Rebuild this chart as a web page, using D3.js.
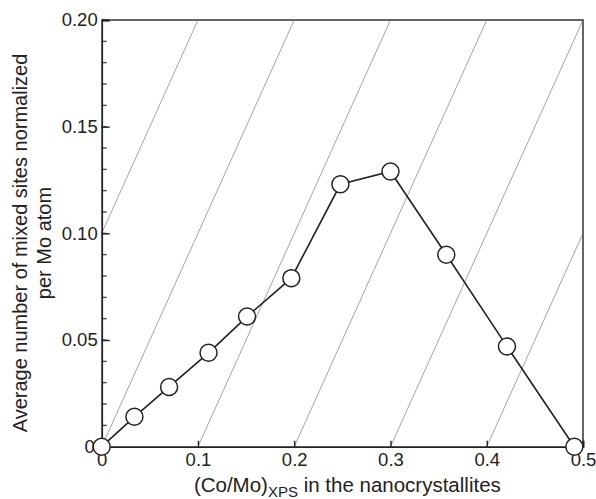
<!DOCTYPE html>
<html>
<head>
<meta charset="utf-8">
<script src="https://cdn.jsdelivr.net/npm/d3@7"></script>
<style>
  body { margin: 0; background: #fff; }
  text { font-family: "Liberation Sans", Arial, sans-serif; }
</style>
</head>
<body>
<script>
// Co/Mo ratio vs mixed sites per Mo atom
const coMo = [0, 0.034, 0.070, 0.111, 0.151, 0.197, 0.248, 0.300, 0.358, 0.421, 0.491];
const mixedSites = [0, 0.014, 0.028, 0.044, 0.061, 0.079, 0.123, 0.129, 0.090, 0.047, 0];

const xTicks = [0, 0.1, 0.2, 0.3, 0.4, 0.5];
const xTickLabels = ['0', '0.1', '0.2', '0.3', '0.4', '0.5'];
const yTicks = [0, 0.05, 0.10, 0.15, 0.20];
const yTickLabels = ['0', '0.05', '0.10', '0.15', '0.20'];
const yMinorTicks = d3.range(0, 21).map((i) => i / 100);
// offsets of the thin guide lines y = x - c
const guideOffsets = [-0.1, 0, 0.1, 0.2, 0.3, 0.4];

const w = 596;
const h = 499;
const plotLeft = 101.7, plotRight = 583, plotTop = 20, plotBottom = 446.7;
const radius = 8.5;

const svg = d3
  .select('body')
  .append('svg')
  .attr('width', w)
  .attr('height', h);

const xScale = d3.scaleLinear().domain([0, 0.5]).range([plotLeft, plotRight]);
const yScale = d3.scaleLinear().domain([0, 0.2]).range([plotBottom, plotTop]);

// guide lines
svg.append('g')
  .selectAll('line')
  .data(guideOffsets)
  .enter()
  .append('line')
  .attr('x1', (c) => xScale(Math.max(0, c)))
  .attr('y1', (c) => yScale(Math.max(0, -c)))
  .attr('x2', (c) => xScale(Math.min(0.5, 0.2 + c)))
  .attr('y2', (c) => yScale(Math.min(0.2, 0.5 - c)))
  .attr('stroke', '#9a9a9a')
  .attr('stroke-width', 0.9);

// frame top/right
svg.append('path')
  .attr('d', 'M' + plotLeft + ',' + plotTop + 'H' + plotRight + 'V' + plotBottom)
  .attr('fill', 'none')
  .attr('stroke', '#666')
  .attr('stroke-width', 2);

// minor y ticks
svg.append('g')
  .selectAll('line')
  .data(yMinorTicks)
  .enter()
  .append('line')
  .attr('x1', plotLeft)
  .attr('x2', plotLeft + 5)
  .attr('y1', (d) => yScale(d))
  .attr('y2', (d) => yScale(d))
  .attr('stroke', '#333')
  .attr('stroke-width', 1.2);

const xAxis = d3.axisBottom(xScale)
  .tickValues(xTicks)
  .tickFormat((d, i) => xTickLabels[i])
  .tickSize(-6)
  .tickPadding(6);

const yAxis = d3.axisLeft(yScale)
  .tickValues(yTicks)
  .tickFormat((d, i) => yTickLabels[i])
  .tickSize(-8)
  .tickPadding(4);

const gx = svg.append('g')
  .attr('transform', 'translate(0,' + plotBottom + ')')
  .call(xAxis);

const gy = svg.append('g')
  .attr('transform', 'translate(' + plotLeft + ',0)')
  .call(yAxis);

[gx, gy].forEach((g) => {
  g.select('.domain').attr('stroke', '#222').attr('stroke-width', 1.8);
  g.selectAll('.tick line').attr('stroke', '#222').attr('stroke-width', 1.4);
  g.selectAll('.tick text')
    .attr('fill', '#222')
    .style('font-size', '18.5px')
    .style('font-family', '"Liberation Sans", Arial, sans-serif');
});
// the y "0" sits just left of the origin marker
gy.selectAll('.tick text').filter((d) => d === 0).attr('x', -7);

// data line and markers
const line = d3.line()
  .x((d, i) => xScale(coMo[i]))
  .y((d) => yScale(d));

svg.append('path')
  .datum(mixedSites)
  .attr('d', line)
  .attr('fill', 'none')
  .attr('stroke', '#222')
  .attr('stroke-width', 1.6);

svg.selectAll('.dot')
  .data(mixedSites)
  .enter()
  .append('circle')
  .attr('class', 'dot')
  .attr('cx', (d, i) => xScale(coMo[i]))
  .attr('cy', (d) => yScale(d))
  .attr('r', radius)
  .attr('fill', '#fff')
  .attr('stroke', '#222')
  .attr('stroke-width', 1.5);

// axis titles
const xTitle = svg.append('text')
  .attr('x', (plotLeft + plotRight) / 2 + 5)
  .attr('y', 492)
  .attr('text-anchor', 'middle')
  .attr('fill', '#222')
  .style('font-size', '20.5px');
xTitle.append('tspan').text('(Co/Mo)');
xTitle.append('tspan').attr('dy', 5).style('font-size', '15px').text('XPS');
xTitle.append('tspan').attr('dy', -5).text(' in the nanocrystallites');

const yTitle = svg.append('text')
  .attr('transform', 'translate(27,243) rotate(-90)')
  .attr('text-anchor', 'middle')
  .attr('fill', '#222')
  .style('font-size', '20px');
yTitle.append('tspan').attr('x', 0).attr('y', 0).text('Average number of mixed sites normalized');
yTitle.append('tspan').attr('x', 0).attr('y', 24).text('per Mo atom');
</script>
</body>
</html>
